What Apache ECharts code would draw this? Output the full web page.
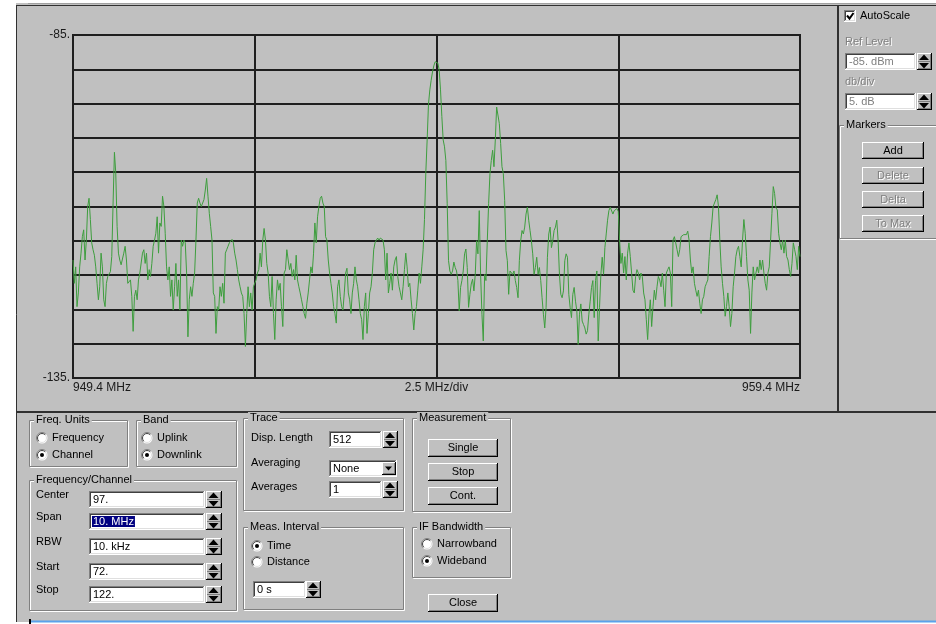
<!DOCTYPE html>
<html><head><meta charset="utf-8">
<script src="https://cdn.jsdelivr.net/npm/echarts@6/dist/echarts.min.js"></script>
<style>html,body{margin:0;padding:0;background:#fff}#c{width:936px;height:624px}</style>
</head><body><div id="c"></div>
<script>
// ---------- data ----------
const startFreq = 949.4, stopFreq = 959.4, mhzPerDiv = 2.5;
const refLevel = -85, bottomLevel = -135, dbPerDiv = 5;
const xTickLabels = ['949.4 MHz', '2.5 MHz/div', '959.4 MHz'];
const yTickLabels = ['-85.', '-135.'];

// trace levels (dBm), one array per horizontal division
const div1Levels = [-117.8,-121.2,-118.8,-124.6,-122.6,-118.8,-116.8,-114.4,-113.4,-117.8,
 -114.9,-110.0,-108.8,-111.9,-115.3,-116.3,-117.1,-118.8,-121.2,-123.6,
 -121.7,-116.8,-118.8,-123.6,-124.6,-121.2,-120.2,-120.2,-119.5,-117.3,
 -109.5,-102.1,-105.1,-112.9,-116.8,-117.8,-118.5,-118.3,-116.8,-115.8,
 -117.8,-121.2,-121.2,-120.7,-123.1,-128.2,-123.1,-122.2,-123.6,-120.7,
 -119.7,-119.7,-116.8,-116.3,-118.3,-116.8,-120.7,-119.2,-120.2,-118.3,
 -115.8,-114.9,-113.9,-111.5,-116.8,-112.4,-112.9,-108.5,-110.0,-113.9,
 -118.8,-120.7,-118.8,-123.1,-120.7,-125.1,-121.7,-118.3,-123.1,-120.7,
 -125.1,-114.9,-115.8,-114.9,-115.3,-119.7,-129.0,-123.6,-121.7,-123.1,
 -121.2,-119.7,-114.9,-109.5,-108.8,-109.5,-110.0,-109.5,-109.0,-107.6,
 -105.9,-108.5,-111.0,-112.9,-114.9,-122.6,-123.1,-128.5,-124.6,-125.1,
 -121.7,-123.1,-121.2,-124.1,-116.8,-116.3,-115.8,-115.3,-115.1,-114.8,
 -115.3,-116.8,-117.8,-119.2,-120.7,-121.7,-122.6,-123.1,-125.6,-130.4,
 -125.6,-121.7,-124.6,-122.6,-125.1,-121.7];
const div2Levels = [-121.7,-120.7,-119.7,-119.2,-116.8,-118.8,-114.9,-113.2,-114.9,-118.3,
 -119.7,-123.1,-124.6,-120.2,-125.6,-129.4,-123.6,-120.7,-122.2,-121.2,
 -124.6,-127.5,-119.7,-119.2,-116.3,-116.3,-119.2,-118.3,-120.2,-119.2,
 -120.7,-117.1,-120.7,-121.7,-122.6,-123.6,-124.6,-125.6,-126.3,-124.1,
 -122.6,-120.7,-118.8,-119.7,-116.8,-112.4,-115.3,-111.5,-110.0,-108.8,
 -108.5,-109.5,-110.0,-114.4,-114.9,-117.8,-119.7,-121.2,-122.6,-124.6,
 -125.6,-127.0,-121.7,-120.7,-123.1,-124.6,-125.1,-122.6,-119.7,-119.0,
 -122.6,-123.6,-125.6,-122.6,-121.2,-118.8,-120.7,-121.7,-123.6,-125.6,
 -126.5,-129.4,-124.6,-122.6,-128.5,-125.6,-122.6,-121.7,-119.7,-116.3,
 -115.3,-114.9,-114.6,-114.9,-114.6,-114.4,-114.9,-116.3,-120.7,-116.8,
 -122.6,-121.2,-119.7,-122.2,-118.8,-117.8,-117.3,-120.2,-121.7,-122.6,
 -123.6,-121.7,-119.2,-116.8,-118.8,-121.7,-121.2,-123.6,-125.6,-128.0,
 -125.6,-124.6,-122.2,-119.7,-121.2,-118.8,-116.3,-111.9,-105.1,-100.3,
 -95.1,-93.0,-91.6,-90.4,-89.5,-88.9];
const div3Levels = [-88.7,-89.1,-90.1,-93.0,-96.9,-100.3,-101.3,-103.3,-109.6,-117.9,
 -119.4,-119.9,-119.4,-118.1,-118.9,-119.4,-120.8,-125.2,-121.8,-120.8,
 -119.4,-116.9,-116.2,-118.9,-124.7,-122.8,-121.3,-120.6,-122.3,-119.9,
 -115.0,-116.9,-110.6,-119.9,-125.7,-129.6,-119.9,-120.8,-115.0,-109.6,
 -105.2,-103.3,-101.8,-104.2,-100.3,-95.5,-95.7,-97.9,-100.8,-104.2,
 -105.2,-109.1,-116.4,-117.9,-122.8,-119.4,-119.4,-119.9,-119.4,-120.8,
 -121.8,-123.3,-117.9,-115.0,-113.5,-114.0,-113.0,-111.1,-110.1,-112.0,
 -113.5,-115.0,-116.9,-119.9,-118.9,-117.4,-119.9,-118.9,-120.8,-123.3,
 -125.7,-127.7,-124.7,-117.4,-114.0,-113.0,-116.0,-115.0,-113.5,-113.0,
 -112.0,-115.0,-119.9,-122.8,-123.3,-122.3,-117.9,-116.9,-117.4,-122.8,
 -124.7,-126.2,-122.8,-121.8,-123.8,-125.2,-130.1,-125.7,-124.2,-126.7,
 -127.2,-127.7,-128.6,-128.1,-125.7,-123.8,-121.8,-120.8,-126.2,-120.8,
 -119.4,-129.6,-124.7,-119.9,-117.4,-119.9,-116.0,-114.0,-112.0,-110.6,
 -110.1,-109.9,-111.1,-110.6,-110.8,-110.3];
const div4Levels = [-110.7,-114.9,-118.3,-116.8,-119.7,-117.3,-120.7,-116.8,-115.3,-117.3,
 -119.7,-122.2,-122.6,-120.2,-119.2,-119.7,-120.7,-119.7,-120.2,-122.6,
 -123.6,-126.5,-129.4,-125.6,-123.6,-127.5,-124.6,-122.2,-123.6,-121.7,
 -120.2,-120.7,-121.7,-119.7,-122.2,-124.6,-119.7,-119.2,-118.8,-119.7,
 -124.6,-114.9,-114.4,-115.3,-116.3,-117.3,-116.3,-114.4,-114.4,-114.1,
 -114.1,-114.1,-113.6,-114.9,-117.8,-119.7,-118.8,-121.2,-122.2,-123.1,
 -122.2,-124.1,-125.6,-123.6,-123.1,-121.7,-121.2,-120.7,-117.3,-114.4,
 -112.4,-110.0,-109.5,-109.0,-108.3,-110.0,-114.9,-118.8,-121.2,-123.1,
 -126.0,-124.6,-122.6,-124.6,-127.5,-125.6,-121.7,-119.7,-117.3,-116.3,
 -115.8,-117.3,-118.8,-114.9,-111.9,-113.9,-117.3,-120.7,-122.2,-128.5,
 -122.6,-118.8,-120.7,-119.7,-118.8,-119.7,-117.8,-119.2,-117.8,-119.7,
 -121.2,-122.2,-119.7,-118.8,-114.9,-111.0,-107.1,-108.1,-110.2,-110.5,
 -113.9,-115.3,-116.3,-114.9,-116.8,-114.9,-117.3,-117.8,-119.2,-120.2,
 -118.3,-115.3,-116.3,-117.3,-119.2,-115.8,-117.3];

// ---------- build series (x = MHz offset from start frequency) ----------
const span = Math.round((stopFreq - startFreq) * 1000) / 1000;
const divisions = [div1Levels, div2Levels, div3Levels, div4Levels];
const traceData = [];
divisions.forEach((arr, d) => {
  const n = d < divisions.length - 1 ? arr.length : arr.length - 1;
  arr.forEach((v, i) => traceData.push([d * mhzPerDiv + i * mhzPerDiv / n, v]));
});
const xLabelAt = [0, span / 2, span];

// ---------- UI drawing helpers (dialog chrome) ----------
const FONT = '11px "Liberation Sans", Arial, sans-serif';
const mctx = document.createElement('canvas').getContext('2d');
mctx.font = FONT;
const G = [];
function R(x, y, w, h, fill) { G.push({type:'rect', silent:true, shape:{x, y, width:w, height:h}, style:{fill}}); }
function SR(x, y, w, h, stroke) { G.push({type:'rect', silent:true, shape:{x:x+0.5, y:y+0.5, width:w-1, height:h-1}, style:{fill:'none', stroke, lineWidth:1}}); }
function L(x1, y1, x2, y2, stroke, lw) { G.push({type:'line', silent:true, shape:{x1, y1, x2, y2}, style:{stroke, lineWidth:lw || 1}}); }
function T(x, y, text, fill, align) {
  G.push({type:'text', silent:true, x, y, style:{text, fill:fill || '#000', font:FONT,
    align:align || 'left', verticalAlign:'middle', textAlign:align || 'left', textVerticalAlign:'middle'}});
}
function DT(x, y, text, align) { T(x + 1, y + 1, text, '#ffffff', align); T(x, y, text, '#808080', align); }
function poly(pts, fill) { G.push({type:'polygon', silent:true, shape:{points:pts}, style:{fill}}); }
function raised(x, y, w, h) {
  R(x, y, w, h, '#c0c0c0');
  L(x, y + 0.5, x + w - 1, y + 0.5, '#ffffff'); L(x + 0.5, y, x + 0.5, y + h - 1, '#ffffff');
  L(x, y + h - 0.5, x + w, y + h - 0.5, '#000000'); L(x + w - 0.5, y, x + w - 0.5, y + h, '#000000');
  L(x + 1, y + h - 1.5, x + w - 1, y + h - 1.5, '#808080'); L(x + w - 1.5, y + 1, x + w - 1.5, y + h - 1, '#808080');
}
function button(x, y, w, h, label, disabled) {
  raised(x, y, w, h);
  if (disabled) DT(x + w / 2, y + h / 2, label, 'center'); else T(x + w / 2, y + h / 2, label, '#000', 'center');
}
function sunken(x, y, w, h, fill) {
  R(x, y, w, h, fill);
  L(x, y + 0.5, x + w, y + 0.5, '#808080'); L(x + 0.5, y, x + 0.5, y + h, '#808080');
  L(x + 1, y + 1.5, x + w - 1, y + 1.5, '#404040'); L(x + 1.5, y + 1, x + 1.5, y + h - 1, '#404040');
  L(x, y + h - 0.5, x + w, y + h - 0.5, '#ffffff'); L(x + w - 0.5, y, x + w - 0.5, y + h, '#ffffff');
  L(x + 1, y + h - 1.5, x + w - 1, y + h - 1.5, '#dfdfdf'); L(x + w - 1.5, y + 1, x + w - 1.5, y + h - 1, '#dfdfdf');
}
function textBox(x, y, w, h, val, mode) {
  sunken(x, y, w, h, '#ffffff');
  if (mode === 'sel') {
    const tw = mctx.measureText(val).width;
    R(x + 3, y + 3, tw + 2, h - 6, '#000080');
    T(x + 4, y + h / 2 + 0.5, val, '#ffffff');
  } else {
    T(x + 4, y + h / 2 + 0.5, val, mode === 'dis' ? '#808080' : '#000');
  }
}
function spinner(x, y, w, h) {
  raised(x, y, w, h);
  const cx = x + w / 2 - 0.5, m = y + h / 2;
  L(x + 1, m, x + w - 2, m, '#808080');
  poly([[cx - 5, m - 1.5], [cx + 5, m - 1.5], [cx, m - 7]], '#000');
  poly([[cx - 5, m + 1.5], [cx + 5, m + 1.5], [cx, m + 7]], '#000');
}
function dropBtn(x, y, w, h) {
  raised(x, y, w, h);
  const cx = x + w / 2 - 0.5, m = y + h / 2;
  poly([[cx - 3.5, m - 2], [cx + 3.5, m - 2], [cx, m + 2]], '#000');
}
function radio(cx, cy, checked) {
  G.push({type:'circle', silent:true, shape:{cx, cy, r:5.5}, style:{fill:'#ffffff'}});
  G.push({type:'arc', silent:true, shape:{cx, cy, r:5.5, startAngle:Math.PI * 0.75, endAngle:Math.PI * 1.75, clockwise:true}, style:{stroke:'#808080', fill:'none', lineWidth:1}});
  G.push({type:'arc', silent:true, shape:{cx, cy, r:4.5, startAngle:Math.PI * 0.75, endAngle:Math.PI * 1.75, clockwise:true}, style:{stroke:'#404040', fill:'none', lineWidth:1}});
  G.push({type:'arc', silent:true, shape:{cx, cy, r:4.5, startAngle:Math.PI * 1.75, endAngle:Math.PI * 2.75, clockwise:true}, style:{stroke:'#dfdfdf', fill:'none', lineWidth:1}});
  if (checked) G.push({type:'circle', silent:true, shape:{cx, cy, r:2}, style:{fill:'#000'}});
}
function groupBox(x, y, w, h, label) {
  SR(x + 1, y + 1, w - 1, h - 1, '#ffffff');
  SR(x, y, w - 1, h - 1, '#808080');
  const tw = mctx.measureText(label).width;
  R(x + 5, y - 6, tw + 4, 12, '#c0c0c0');
  T(x + 7, y, label);
}

// window frame
R(0, 0, 936, 3, '#ffffff');
R(0, 0, 16, 624, '#ffffff');
L(28, 3.5, 936, 3.5, '#a0a0a0');
L(16, 5.5, 936, 5.5, '#303030');
L(16.5, 5, 16.5, 624, '#303030');
R(0, 622, 936, 2, '#ffffff');
R(31, 620.5, 905, 2, '#5aa2ea');
R(29, 619, 2, 5, '#000');
// panel dividers
L(838, 6, 838, 412, '#303030', 2);
L(17, 412, 936, 412, '#303030', 2);

// right panel
sunken(844, 10, 12, 12, '#ffffff');
G.push({type:'polyline', silent:true, shape:{points:[[847, 15.5], [849.5, 18.5], [853.5, 13]]}, style:{stroke:'#000', lineWidth:2, fill:'none'}});
T(860, 16, 'AutoScale');
DT(845, 42, 'Ref Level');
textBox(845, 53, 71, 17, '-85. dBm', 'dis');
spinner(917, 53, 15, 17);
DT(845, 82, 'db/div');
textBox(845, 93, 71, 17, '5. dB', 'dis');
spinner(917, 93, 15, 17);
groupBox(839, 125, 102, 115, 'Markers');
button(862, 142, 62, 17, 'Add', false);
button(862, 167, 62, 17, 'Delete', true);
button(862, 191, 62, 17, 'Delta', true);
button(862, 215, 62, 17, 'To Max', true);

// bottom panel: left groups
groupBox(29, 420, 100, 48, 'Freq. Units');
radio(42, 438, false); T(52, 438, 'Frequency');
radio(42, 455, true); T(52, 455, 'Channel');
groupBox(136, 420, 102, 48, 'Band');
radio(147, 438, false); T(157, 438, 'Uplink');
radio(147, 455, true); T(157, 455, 'Downlink');
groupBox(29, 480, 209, 132, 'Frequency/Channel');
const fcRows = [['Center', '97.', 491], ['Span', '10. MHz', 513], ['RBW', '10. kHz', 538], ['Start', '72.', 563], ['Stop', '122.', 586]];
fcRows.forEach(([lab, val, y], i) => {
  T(36, y + 4, lab);
  textBox(89, y, 116, 17, val, i === 1 ? 'sel' : '');
  spinner(206, y, 16, 17);
});

// Trace group
groupBox(243, 418, 162, 94, 'Trace');
T(251, 438, 'Disp. Length'); textBox(329, 431, 53, 17, '512'); spinner(383, 431, 15, 17);
T(251, 463, 'Averaging'); textBox(329, 460, 68, 17, 'None'); dropBtn(382, 462, 14, 13);
T(251, 487, 'Averages'); textBox(329, 481, 53, 17, '1'); spinner(383, 481, 15, 17);

// Meas. Interval group
groupBox(243, 527, 162, 84, 'Meas. Interval');
radio(257, 546, true); T(267, 546, 'Time');
radio(257, 562, false); T(267, 562, 'Distance');
textBox(253, 581, 53, 17, '0 s'); spinner(306, 581, 15, 17);

// Measurement group
groupBox(412, 418, 100, 95, 'Measurement');
button(428, 439, 70, 18, 'Single');
button(428, 463, 70, 18, 'Stop');
button(428, 487, 70, 18, 'Cont.');

// IF Bandwidth group
groupBox(412, 527, 100, 52, 'IF Bandwidth');
radio(427, 544, false); T(437, 544, 'Narrowband');
radio(427, 561, true); T(437, 561, 'Wideband');
button(428, 594, 70, 18, 'Close');

// ---------- chart ----------
const chart = echarts.init(document.getElementById('c'), null, {renderer:'canvas'});
const gridColor = '#1e1e1e';
chart.setOption({
  backgroundColor:'#c0c0c0',
  animation:false,
  grid:{left:73, top:35, width:727, height:343, show:true, borderColor:gridColor, borderWidth:2, backgroundColor:'transparent'},
  xAxis:{
    type:'value', min:0, max:span, interval:mhzPerDiv,
    axisLine:{show:false}, axisTick:{show:false},
    splitLine:{show:true, lineStyle:{color:gridColor, width:2}},
    axisLabel:{
      show:true, margin:4, color:'#1a1a1a', fontSize:12, fontFamily:'"Liberation Sans", Arial, sans-serif',
      showMinLabel:true, showMaxLabel:true, alignMinLabel:'left', alignMaxLabel:'right',
      formatter:v => { const i = xLabelAt.findIndex(t => Math.abs(t - v) < 1e-6); return i >= 0 ? xTickLabels[i] : ''; }
    }
  },
  yAxis:{
    type:'value', min:bottomLevel, max:refLevel, interval:dbPerDiv,
    axisLine:{show:false}, axisTick:{show:false},
    splitLine:{show:true, lineStyle:{color:gridColor, width:2}},
    axisLabel:{
      show:true, margin:3, color:'#1a1a1a', fontSize:12, fontFamily:'"Liberation Sans", Arial, sans-serif',
      showMinLabel:true, showMaxLabel:true,
      formatter:v => v === refLevel ? yTickLabels[0] : (v === bottomLevel ? yTickLabels[1] : '')
    }
  },
  series:[{
    type:'line', data:traceData, showSymbol:false, symbol:'none', silent:true,
    lineStyle:{color:'#3e9e3e', width:1}, z:3
  }],
  graphic:G
});
</script>
</body></html>
